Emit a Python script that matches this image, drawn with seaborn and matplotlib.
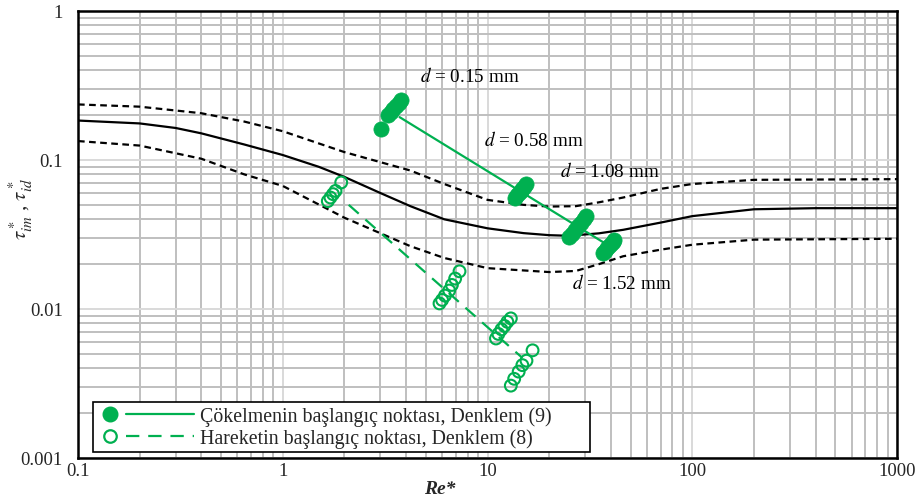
import numpy as np
import pandas as pd
import matplotlib
matplotlib.use("Agg")
import matplotlib.pyplot as plt
import seaborn as sns
from matplotlib.lines import Line2D
from matplotlib.legend_handler import HandlerBase
from matplotlib.ticker import FixedLocator, NullFormatter, LogLocator

# ---------------- data ----------------
shields_x = [0.1, 0.2, 0.3, 0.4, 0.65, 1, 1.5, 2, 3, 4.2, 6.15, 10, 15, 20, 25, 35, 46, 70, 100, 200, 400, 1000]
shields_y = [0.184, 0.176, 0.164, 0.151, 0.127, 0.108, 0.090, 0.077, 0.060, 0.049, 0.040, 0.0348, 0.0323,
             0.0313, 0.031, 0.0322, 0.034, 0.038, 0.042, 0.0467, 0.0475, 0.0475]

upper_x = [0.1, 0.2, 0.4, 0.65, 1, 2, 4.2, 6.15, 10, 15, 20, 27, 35, 46, 70, 100, 200, 1000]
upper_y = [0.236, 0.228, 0.206, 0.181, 0.156, 0.113, 0.085, 0.069, 0.054, 0.050, 0.0487, 0.049, 0.052,
           0.056, 0.064, 0.069, 0.0736, 0.0744]

lower_x = [0.1, 0.2, 0.4, 0.65, 1, 2, 4.2, 6.15, 10, 20, 27, 35, 46, 70, 100, 200, 1000]
lower_y = [0.134, 0.125, 0.102, 0.080, 0.067, 0.041, 0.0264, 0.022, 0.0188, 0.0177, 0.018, 0.020,
           0.0226, 0.025, 0.027, 0.0292, 0.0296]

# Çökelmenin başlangıç noktası (filled)
dep_x = [3.03, 3.27, 3.37, 3.47, 3.57, 3.68, 3.79,
         13.6, 13.9, 14.2, 14.5, 14.8, 15.1, 15.4,
         25.1, 26.0, 26.9, 27.8, 28.6, 29.5, 30.3,
         36.5, 37.4, 38.3, 39.2, 40.0, 40.9, 41.7]
dep_y = [0.162, 0.199, 0.210, 0.220, 0.230, 0.241, 0.252,
         0.056, 0.058, 0.060, 0.062, 0.064, 0.066, 0.069,
         0.0305, 0.032, 0.034, 0.036, 0.038, 0.040, 0.042,
         0.0238, 0.0246, 0.0255, 0.0264, 0.0273, 0.0282, 0.0292]
dep_fit_x = [3.72, 39.3]
dep_fit_y = [0.194, 0.0265]

# Hareketin başlangıç noktası (open)
mot_x = [1.66, 1.71, 1.76, 1.81, 1.93,
         5.83, 6.0, 6.2, 6.5, 6.7, 6.95, 7.3,
         11.0, 11.3, 11.7, 12.1, 12.5, 13.0,
         13.0, 13.5, 14.2, 14.8, 15.5, 16.6]
mot_y = [0.053, 0.056, 0.059, 0.062, 0.0707,
         0.0109, 0.0115, 0.0123, 0.0133, 0.0145, 0.016, 0.0179,
         0.00634, 0.0068, 0.0073, 0.0077, 0.0082, 0.00865,
         0.00306, 0.0034, 0.0038, 0.0042, 0.0045, 0.00528]
mot_fit_x = [2.1, 14.8]
mot_fit_y = [0.050, 0.0047]

d_labels = ["0.15", "0.58", "1.08", "1.52"]
d_label_x = [4.66, 9.66, 22.7, 26.0]
d_label_y = [0.37, 0.137, 0.0856, 0.015]

x_ticks = [0.1, 1, 10, 100, 1000]
x_ticklabels = ["0.1", "1", "10", "100", "1000"]
y_ticks = [0.001, 0.01, 0.1, 1]
y_ticklabels = ["0.001", "0.01", "0.1", "1"]

legend_labels = ["Çökelmenin başlangıç noktası, Denklem (9)",
                 "Hareketin başlangıç noktası, Denklem (8)"]

# ---------------- style ----------------
sns.set_style("white")
plt.rcParams['font.family'] = ['Liberation Serif', 'DejaVu Serif']
plt.rcParams['mathtext.fontset'] = 'stix'

GREEN = '#00b050'

fig = plt.figure(figsize=(9.16, 5.02), dpi=100)
ax = fig.add_axes([78/916, 1-459/502, (897-78)/916, (459-12)/502])
ax.set_xscale('log')
ax.set_yscale('log')
ax.set_xlim(0.1, 1000)
ax.set_ylim(0.001, 1)

# grid
ax.xaxis.set_minor_locator(LogLocator(base=10, subs=np.arange(2, 10)))
ax.yaxis.set_minor_locator(LogLocator(base=10, subs=np.arange(2, 10)))
ax.xaxis.set_minor_formatter(NullFormatter())
ax.yaxis.set_minor_formatter(NullFormatter())
ax.grid(True, which='minor', color='#bfbfbf', linewidth=1.4)
ax.grid(True, which='major', color='#d9d9d9', linewidth=1.4)
ax.set_axisbelow(True)

# curves
sns.lineplot(x=shields_x, y=shields_y, ax=ax, color='black', linewidth=1.6,
             estimator=None, sort=False)
sns.lineplot(x=upper_x, y=upper_y, ax=ax, color='black', linewidth=1.6,
             estimator=None, sort=False)
ax.lines[-1].set_dashes((3, 2))
sns.lineplot(x=lower_x, y=lower_y, ax=ax, color='black', linewidth=1.6,
             estimator=None, sort=False)
ax.lines[-1].set_dashes((3, 2))

# fit lines
sns.lineplot(x=dep_fit_x, y=dep_fit_y, ax=ax, color=GREEN, linewidth=1.6,
             estimator=None, sort=False)
sns.lineplot(x=mot_fit_x, y=mot_fit_y, ax=ax, color=GREEN, linewidth=1.6,
             estimator=None, sort=False)
ax.lines[-1].set_dashes((6, 4))

# markers
sns.scatterplot(x=dep_x, y=dep_y, ax=ax, color=GREEN, s=120, edgecolor=GREEN,
                linewidth=0.5, zorder=5)
sns.scatterplot(x=mot_x, y=mot_y, ax=ax, facecolors='none', edgecolor=GREEN,
                s=72, linewidth=1.5, zorder=5)

# d labels
for lab, tx, ty in zip(d_labels, d_label_x, d_label_y):
    ax.text(tx, ty, r"$d$ = " + lab + " mm", fontsize=13.8, ha='left', va='center',
            color='black', zorder=6)

# ticks
ax.xaxis.set_major_locator(FixedLocator(x_ticks))
ax.set_xticklabels(x_ticklabels, fontsize=13.5)
ax.yaxis.set_major_locator(FixedLocator(y_ticks))
ax.set_yticklabels(y_ticklabels, fontsize=13.5)
ax.tick_params(which='both', length=0)
ax.tick_params(axis='y', pad=11)
ax.tick_params(axis='x', pad=3)

for s in ax.spines.values():
    s.set_visible(True)
    s.set_color('black')
    s.set_linewidth(1.8)

ax.set_xlabel("Re*", fontsize=14, fontweight='bold', fontstyle='italic')
ax.xaxis.set_label_coords(0.442, -0.05)
ax.set_ylabel(r"$\tau^*_{im}$ , $\tau^*_{id}$", fontsize=15)
ax.yaxis.set_label_coords(-0.052, 0.56)

# legend
class MarkerThenLine(HandlerBase):
    def create_artists(self, legend, orig_handle, xdescent, ydescent, width, height,
                       fontsize, trans):
        mk, ln = orig_handle
        y = height / 2 - ydescent
        a = Line2D([-xdescent + 0.13 * width], [y], linestyle='none',
                   marker='o', markersize=mk.get_markersize(),
                   markerfacecolor=mk.get_markerfacecolor(),
                   markeredgecolor=mk.get_markeredgecolor(),
                   markeredgewidth=mk.get_markeredgewidth())
        b = Line2D([-xdescent + 0.30 * width, -xdescent + width], [y, y],
                   color=ln.get_color(), linewidth=ln.get_linewidth(),
                   linestyle=ln.get_linestyle())
        if ln.get_linestyle() == '--':
            b.set_dashes((6, 4))
        a.set_transform(trans)
        b.set_transform(trans)
        return [a, b]

h1 = (Line2D([], [], marker='o', markersize=10.5, markerfacecolor=GREEN, markeredgecolor=GREEN,
             linestyle='none'),
      Line2D([], [], color=GREEN, linewidth=1.6, linestyle='-'))
h2 = (Line2D([], [], marker='o', markersize=9, markerfacecolor='white', markeredgecolor=GREEN,
             markeredgewidth=1.6, linestyle='none'),
      Line2D([], [], color=GREEN, linewidth=1.6, linestyle='--'))
leg = ax.legend([h1, h2], legend_labels, handler_map={tuple: MarkerThenLine()},
                loc='lower left', bbox_to_anchor=(0.018, 0.013, 0.607, 0.1), mode='expand',
                borderaxespad=0,
                fontsize=14.3, handlelength=4.9, handletextpad=0.3, labelspacing=0.1,
                frameon=True, fancybox=False, framealpha=1, edgecolor='black',
                borderpad=0.22)
leg.get_frame().set_linewidth(1.2)

fig.savefig("out.png", dpi=100)
